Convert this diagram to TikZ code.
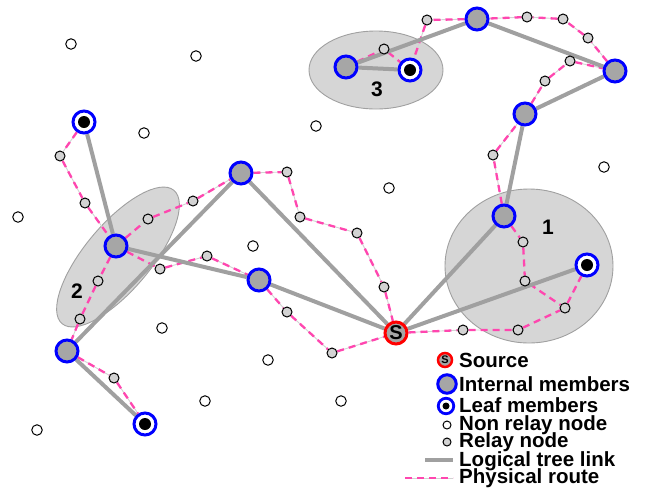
\documentclass[tikz,border=0pt]{standalone}
\usepackage{fontspec}
\setmainfont{Liberation Sans}
\usetikzlibrary{shapes.geometric}

\definecolor{memberblue}{RGB}{0,0,255}
\definecolor{sourcered}{RGB}{255,0,0}
\definecolor{memberfill}{RGB}{166,166,166}
\definecolor{relayfill}{RGB}{211,211,211}
\definecolor{clusterfill}{RGB}{214,214,214}
\definecolor{clusterline}{RGB}{160,160,160}
\definecolor{treegray}{RGB}{160,160,160}
\definecolor{routepink}{RGB}{255,70,175}
\definecolor{routegray}{RGB}{210,210,210}

\pgfdeclarelayer{clusters}
\pgfdeclarelayer{routes}
\pgfdeclarelayer{links}
\pgfsetlayers{clusters,routes,links,main}

\tikzset{
  cluster/.style={fill=clusterfill, draw=clusterline, line width=0.9pt},
  clusterlabel/.style={font=\fontsize{21}{24}\selectfont\bfseries, inner sep=0pt},
  source/.style={circle, draw=sourcered, fill=memberfill, line width=3pt,
    minimum size=22pt, inner sep=0pt, font=\fontsize{20}{20}\selectfont\bfseries},
  internal/.style={circle, draw=memberblue, fill=memberfill, line width=3pt,
    minimum size=22pt, inner sep=0pt},
  leaf/.style={circle, draw=memberblue, fill=white, line width=3pt,
    minimum size=22pt, inner sep=0pt,
    path picture={\fill[black] (path picture bounding box.center) circle (6pt);}},
  relay/.style={circle, draw=black, fill=relayfill, line width=1pt,
    minimum size=10pt, inner sep=0pt},
  nonrelay/.style={circle, draw=black, fill=white, line width=1pt,
    minimum size=10.5pt, inner sep=0pt},
  tree/.style={draw=treegray, line width=4pt},
  route/.style={draw=routegray, line width=0.9pt,
    postaction={draw=routepink, line width=2.3pt, dash pattern=on 7pt off 5pt}},
  legendtext/.style={anchor=base west, inner sep=0pt,
    font=\fontsize{20.5}{22}\selectfont\bfseries},
}

\begin{document}
\begin{tikzpicture}[x=1pt, y=-1pt]
\useasboundingbox (0,0) rectangle (650,491);

% clusters
\begin{pgfonlayer}{clusters}
\draw[cluster] (529,266) ellipse [x radius=84pt, y radius=77pt];
\draw[cluster, rotate around={50:(118,257)}] (118,257) ellipse [x radius=87pt, y radius=33pt];
\draw[cluster] (376,70) ellipse [x radius=67pt, y radius=39pt];
\end{pgfonlayer}
\node[clusterlabel] (lab1) at (548,227) {1};
\node[clusterlabel] (lab2) at (77,291) {2};
\node[clusterlabel] (lab3) at (377,89) {3};

% source, internal and leaf members
\node[source] (S) at (396,333) {S};
\node[internal] (A) at (241,173) {};
\node[internal] (B) at (116,246) {};
\node[internal] (C) at (259,280) {};
\node[internal] (D) at (67,351) {};
\node[internal] (E) at (504,216) {};
\node[internal] (F) at (525,114) {};
\node[internal] (G) at (615,71) {};
\node[internal] (H) at (477,19) {};
\node[internal] (I) at (346,67) {};
\node[leaf] (L1) at (84,122) {};
\node[leaf] (L2) at (145,424) {};
\node[leaf] (L3) at (410,70) {};
\node[leaf] (L4) at (587,265) {};

% relay nodes
\foreach \n/\p in {r1/{60,156}, r2/{85,203}, r3/{148,219}, r4/{193,201},
  r5/{287,172}, r6/{300,217}, r7/{357,233}, r8/{384,287}, r9/{160,269},
  r10/{207,256}, r11/{287,312}, r12/{332,353}, r13/{98,281}, r14/{80,319},
  r15/{114,378}, r16/{463,330}, r17/{518,330}, r18/{565,308}, r19/{523,242},
  r20/{525,281}, r21/{493,155}, r22/{545,81}, r23/{570,61}, r24/{588,38},
  r25/{563,19}, r26/{527,17}, r27/{427,20}, r28/{384,49}}
  \node[relay] (\n) at (\p) {};

% non relay nodes
\foreach \n/\p in {n1/{71,44}, n2/{196,56}, n3/{144,133}, n4/{18,217},
  n5/{316,126}, n6/{253,246}, n7/{389,188}, n8/{604,167}, n9/{162,328},
  n10/{268,360}, n11/{205,401}, n12/{37,430}, n13/{341,401}}
  \node[nonrelay] (\n) at (\p) {};

% physical routes
\begin{pgfonlayer}{routes}
\draw[route] (L1) -- (r1) -- (r2) -- (B);
\draw[route] (B) -- (r3) -- (r4) -- (A);
\draw[route] (A) -- (r5) -- (r6) -- (r7) -- (r8) -- (S);
\draw[route] (B) -- (r9) -- (r10) -- (C);
\draw[route] (C) -- (r11) -- (r12) -- (S);
\draw[route] (B) -- (r13) -- (r14) -- (D);
\draw[route] (D) -- (r15) -- (L2);
\draw[route] (S) -- (r16) -- (r17) -- (r18) -- (L4);
\draw[route] (E) -- (r19) -- (r20) -- (r18);
\draw[route] (E) -- (r21) -- (F);
\draw[route] (F) -- (r22) -- (r23) -- (G);
\draw[route] (G) -- (r24) -- (r25) -- (r26) -- (H);
\draw[route] (H) -- (r27) -- (L3);
\draw[route] (I) -- (r28) -- (L3);
\end{pgfonlayer}

% logical tree links
\begin{pgfonlayer}{links}
\draw[tree] (S) -- (A);
\draw[tree] (S) -- (C);
\draw[tree] (S) -- (E);
\draw[tree] (S) -- (L4);
\draw[tree] (A) -- (D);
\draw[tree] (D) -- (L2);
\draw[tree] (C) -- (B);
\draw[tree] (B) -- (L1);
\draw[tree] (E) -- (F);
\draw[tree] (F) -- (G);
\draw[tree] (G) -- (H);
\draw[tree] (H) -- (I);
\draw[tree] (I) -- (L3);
\end{pgfonlayer}

% legend
\node[source, minimum size=14pt, line width=2.5pt, font=\fontsize{11}{11}\selectfont\bfseries] (kS) at (445,360) {S};
\node[internal, minimum size=18.5pt] (kI) at (447,384) {};
\node[leaf, minimum size=15.5pt, line width=2.8pt,
  path picture={\fill[black] (path picture bounding box.center) circle (3.5pt);}] (kL) at (446,406) {};
\node[nonrelay, minimum size=8pt] (kN) at (447,425) {};
\node[relay, minimum size=8pt] (kR) at (447,442) {};
\coordinate (kT1) at (425,460);
\coordinate (kT2) at (453,460);
\coordinate (kP1) at (405,478);
\coordinate (kP2) at (453,478);
\draw[tree] (kT1) -- (kT2);
\draw[route] (kP1) -- (kP2);

\node[legendtext] (tS) at (459,367) {Source};
\node[legendtext] (tI) at (459,391) {Internal members};
\node[legendtext] (tL) at (459,412) {Leaf members};
\node[legendtext] (tN) at (459,430) {Non relay node};
\node[legendtext] (tR) at (459,447) {Relay node};
\node[legendtext] (tT) at (459,466) {Logical tree link};
\node[legendtext] (tP) at (459,483) {Physical route};
\end{tikzpicture}
\end{document}
